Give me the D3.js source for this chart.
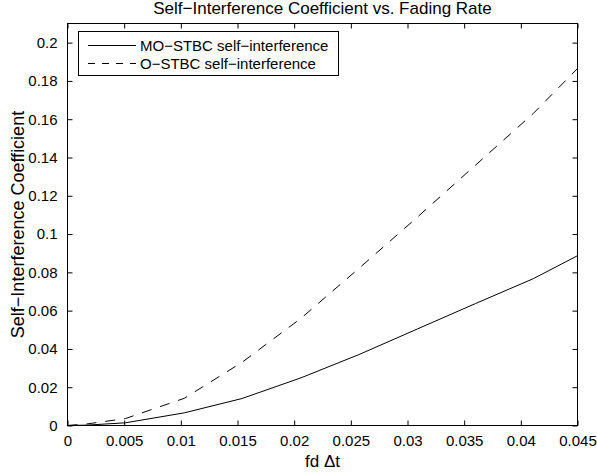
<!DOCTYPE html>
<html>
<head>
<meta charset="utf-8">
<script src="https://cdn.jsdelivr.net/npm/d3@7"></script>
<style>
  body { margin: 0; background: white; }
  text { font-family: "Liberation Sans", Arial, sans-serif; fill: black; }
</style>
</head>
<body>
<div id="vis"></div>
<script>
// data
var fdDt = [0, 0.0017, 0.0051, 0.0103, 0.0154, 0.0206, 0.0257, 0.0309, 0.036, 0.0411, 0.045];
var moStbc = [0, 0.0002, 0.0014, 0.0066, 0.0141, 0.0249, 0.037, 0.0505, 0.0637, 0.0767, 0.0887];
var oStbc = [0, 0.0008, 0.0036, 0.0142, 0.033, 0.056, 0.082, 0.109, 0.136, 0.163, 0.1865];

var seriesNames = ['MO\u2212STBC self\u2212interference', 'O\u2212STBC self\u2212interference'];
var xTicks = [0, 0.005, 0.01, 0.015, 0.02, 0.025, 0.03, 0.035, 0.04, 0.045];
var xTickLabels = ['0', '0.005', '0.01', '0.015', '0.02', '0.025', '0.03', '0.035', '0.04', '0.045'];
var yTicks = [0, 0.02, 0.04, 0.06, 0.08, 0.1, 0.12, 0.14, 0.16, 0.18, 0.2];
var yTickLabels = ['0', '0.02', '0.04', '0.06', '0.08', '0.1', '0.12', '0.14', '0.16', '0.18', '0.2'];

var titleText = 'Self\u2212Interference Coefficient vs. Fading Rate';
var xLabel = 'fd \u0394t';
var yLabel = 'Self\u2212Interference Coefficient';

// svg properties
var svgWidth = 597;
var svgHeight = 476;

var svg = d3.select('#vis').append('svg')
  .attr('width', svgWidth)
  .attr('height', svgHeight);

// plot box (matlab style, box on)
var box = {left: 67.5, right: 577.5, top: 23.5, bottom: 425.5};

var xScale = d3.scaleLinear().domain([0, 0.045]).range([box.left, box.right]);
var yScale = d3.scaleLinear().domain([0, 0.21]).range([box.bottom, box.top]);

var tickLen = 5;
var tickFont = 15;
var labelFont = 17;

// axes: bottom and left with labels, top and right mirror ticks only, all ticks inward
svg.append('g')
  .attr('transform', 'translate(0,' + box.bottom + ')')
  .call(d3.axisBottom(xScale).tickValues(xTicks)
    .tickFormat(function (d, i) { return xTickLabels[i]; })
    .tickSizeInner(-tickLen).tickSizeOuter(0).tickPadding(10))
  .call(function (g) {
    g.select('.domain').remove();
    g.selectAll('text').attr('font-size', tickFont).attr('font-family', '"Liberation Sans", Arial, sans-serif');
  });

svg.append('g')
  .attr('transform', 'translate(' + box.left + ',0)')
  .call(d3.axisLeft(yScale).tickValues(yTicks)
    .tickFormat(function (d, i) { return yTickLabels[i]; })
    .tickSizeInner(-tickLen).tickSizeOuter(0).tickPadding(10))
  .call(function (g) {
    g.select('.domain').remove();
    g.selectAll('text').attr('font-size', tickFont).attr('font-family', '"Liberation Sans", Arial, sans-serif');
  });

svg.append('g')
  .attr('transform', 'translate(0,' + box.top + ')')
  .call(d3.axisTop(xScale).tickValues(xTicks).tickFormat('')
    .tickSizeInner(-tickLen).tickSizeOuter(0))
  .call(function (g) { g.select('.domain').remove(); });

svg.append('g')
  .attr('transform', 'translate(' + box.right + ',0)')
  .call(d3.axisRight(yScale).tickValues(yTicks).tickFormat('')
    .tickSizeInner(-tickLen).tickSizeOuter(0))
  .call(function (g) { g.select('.domain').remove(); });

// box outline
svg.append('rect')
  .attr('x', box.left)
  .attr('y', box.top)
  .attr('width', box.right - box.left)
  .attr('height', box.bottom - box.top)
  .attr('fill', 'none')
  .attr('stroke', 'black')
  .attr('stroke-width', 1);

// lines
var makeLine = d3.line()
  .x(function (d) { return xScale(d.x); })
  .y(function (d) { return yScale(d.y); });

var moData = fdDt.map(function (v, i) { return {x: v, y: moStbc[i]}; });
var oData = fdDt.map(function (v, i) { return {x: v, y: oStbc[i]}; });

svg.append('path')
  .attr('d', makeLine(moData))
  .attr('fill', 'none')
  .attr('stroke', 'black')
  .attr('stroke-width', 1);

svg.append('path')
  .attr('d', makeLine(oData))
  .attr('fill', 'none')
  .attr('stroke', 'black')
  .attr('stroke-width', 1)
  .attr('stroke-dasharray', '10,9');

// legend
var legend = svg.append('g');
legend.append('rect')
  .attr('x', 78.5)
  .attr('y', 31.5)
  .attr('width', 260)
  .attr('height', 44)
  .attr('fill', 'white')
  .attr('stroke', 'black');

var legendRows = [{y: 45, dash: null}, {y: 63, dash: '7,7'}];
legendRows.forEach(function (r, i) {
  legend.append('line')
    .attr('x1', 88).attr('x2', 136)
    .attr('y1', r.y + 0.5).attr('y2', r.y + 0.5)
    .attr('stroke', 'black')
    .attr('stroke-dasharray', r.dash);
  legend.append('text')
    .attr('x', 140)
    .attr('y', r.y + 5.5)
    .attr('font-size', tickFont)
    .text(seriesNames[i]);
});

// title and axis labels
svg.append('text')
  .attr('x', (box.left + box.right) / 2)
  .attr('y', 14)
  .attr('text-anchor', 'middle')
  .attr('font-size', labelFont)
  .text(titleText);

svg.append('text')
  .attr('x', (box.left + box.right) / 2)
  .attr('y', 467)
  .attr('text-anchor', 'middle')
  .attr('font-size', labelFont)
  .text(xLabel);

svg.append('text')
  .attr('transform', 'translate(24,' + (box.top + box.bottom) / 2 + ') rotate(-90)')
  .attr('text-anchor', 'middle')
  .attr('font-size', 18)
  .text(yLabel);
</script>
</body>
</html>
